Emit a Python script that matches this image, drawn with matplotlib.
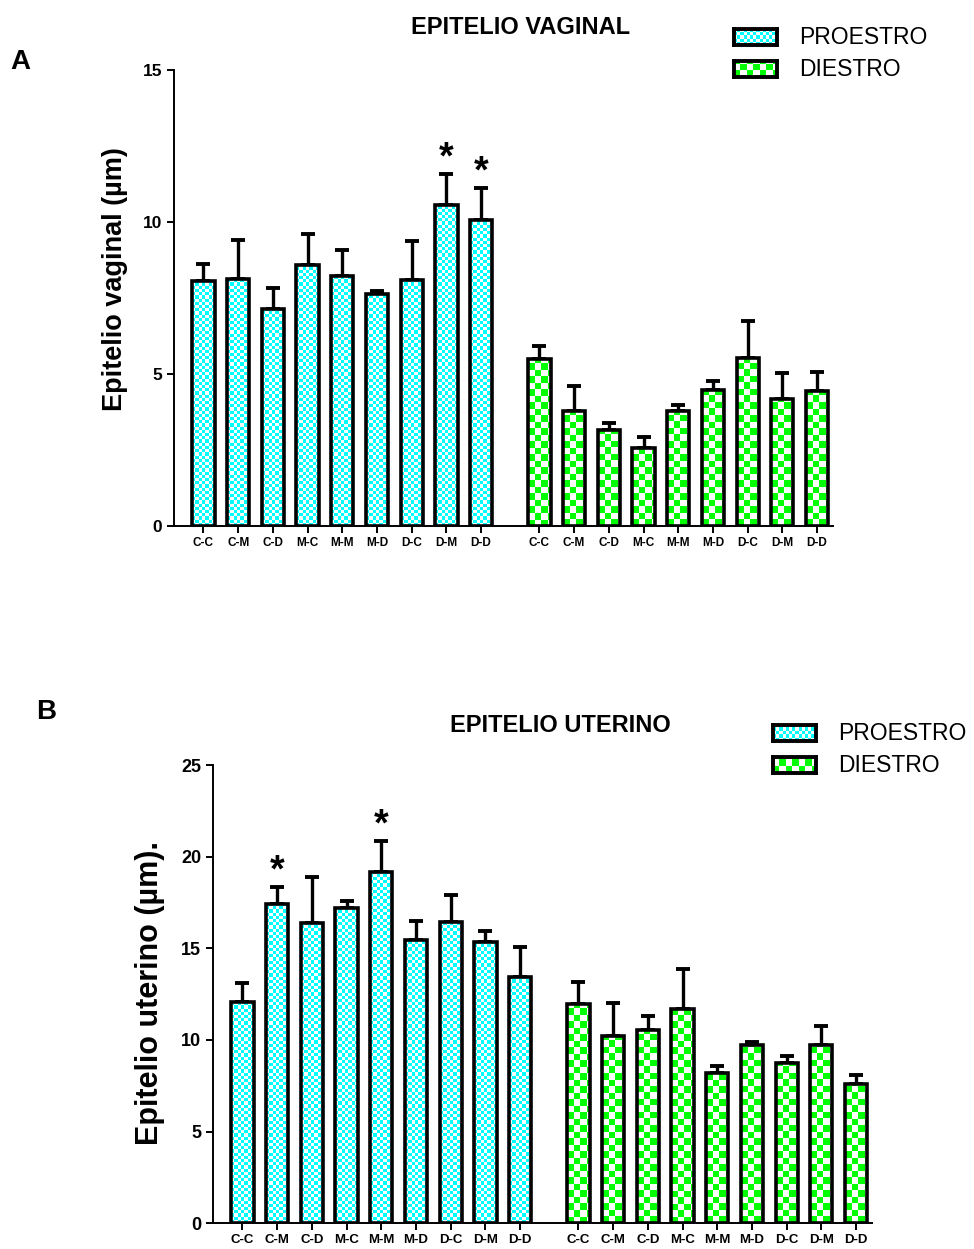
import matplotlib
matplotlib.use("Agg")
import matplotlib.pyplot as plt
import numpy as np

plt.rcParams['font.family'] = ['Liberation Sans', 'DejaVu Sans']

# data (mean, sem) ------------------------------------------------------
groups = ['C-C', 'C-M', 'C-D', 'M-C', 'M-M', 'M-D', 'D-C', 'D-M', 'D-D']

vag_pro = [8.04, 8.10, 7.14, 8.56, 8.21, 7.61, 8.07, 10.56, 10.07]
vag_pro_sem = [0.57, 1.30, 0.69, 1.04, 0.86, 0.11, 1.31, 1.00, 1.05]
vag_die = [5.48, 3.77, 3.16, 2.55, 3.79, 4.48, 5.53, 4.16, 4.45]
vag_die_sem = [0.45, 0.83, 0.22, 0.37, 0.19, 0.27, 1.22, 0.88, 0.62]
vag_stars = ['D-M', 'D-D']

ute_pro = [12.05, 17.40, 16.40, 17.18, 19.18, 15.47, 16.45, 15.36, 13.45]
ute_pro_sem = [1.05, 0.96, 2.51, 0.38, 1.69, 1.04, 1.48, 0.57, 1.64]
ute_die = [11.98, 10.22, 10.53, 11.67, 8.22, 9.71, 8.73, 9.71, 7.60]
ute_die_sem = [1.18, 1.80, 0.80, 2.19, 0.38, 0.20, 0.41, 1.04, 0.47]
ute_stars = ['C-M', 'M-M']

W, H = 974, 1249
CYAN = np.array([0, 255, 255]) / 255
GREEN = np.array([0, 255, 0]) / 255
WHITE = np.array([1.0, 1.0, 1.0])


def px_rect(l, t, r, b):
    return [l / W, 1 - b / H, (r - l) / W, (b - t) / H]


def checker(nx, ny, col):
    g = np.add.outer(np.arange(ny), np.arange(nx)) % 2
    return np.where(g[..., None] == 0, col, WHITE)


def checker_fill(ax, bars, col, cell_px):
    tr = ax.transData
    for b in bars:
        x0, y0, w, h = b.get_x(), b.get_y(), b.get_width(), b.get_height()
        p0 = tr.transform((x0, y0))
        p1 = tr.transform((x0 + w, y0 + h))
        dx = w / (p1[0] - p0[0]) * cell_px
        dy = h / (p1[1] - p0[1]) * cell_px
        nx = int(np.ceil(w / dx))
        ny = int(np.ceil(h / dy))
        im = ax.imshow(checker(nx, ny, col), extent=(x0, x0 + nx * dx, y0, y0 + ny * dy),
                       origin='lower', aspect='auto', interpolation='nearest', zorder=2)
        im.set_clip_path(b)


def panel(rect, pro, pro_sem, die, die_sem, stars, ymax, title, title_xy,
          ylabel, ylabel_xy, letter, letter_xy, leg_x, leg_y, fs):
    ax = fig.add_axes(px_rect(*rect))
    xp = np.arange(len(groups))
    xd = xp + 9.68
    ax.set_xlim(-0.85, 18.14)
    ax.set_ylim(0, ymax)

    bp = ax.bar(xp, pro, width=0.64, facecolor='none', edgecolor='black', linewidth=2.6, zorder=3)
    bd = ax.bar(xd, die, width=0.64, facecolor='none', edgecolor='black', linewidth=2.6, zorder=3)
    checker_fill(ax, bp, CYAN, 3.2)
    checker_fill(ax, bd, GREEN, 6.5)

    for x, m, s in ((xp, pro, pro_sem), (xd, die, die_sem)):
        ax.errorbar(x, m, yerr=[np.zeros(len(s)), s], fmt='none', ecolor='black',
                    elinewidth=2.4, capsize=4.8, capthick=2.8, zorder=1)

    for g in stars:
        i = groups.index(g)
        ax.annotate('*', (xp[i], pro[i] + pro_sem[i]), xytext=(0, -2), textcoords='offset points',
                    ha='center', va='bottom', fontsize=27, fontweight='bold')

    ax.set_xticks(np.concatenate([xp, xd]))
    ax.set_xticklabels(groups + groups, fontsize=fs[0], fontweight='bold')
    ax.set_yticks(np.arange(0, ymax + 1, 5))
    ax.tick_params(axis='y', labelsize=fs[1], width=1.4, length=5)
    ax.tick_params(axis='x', width=1.4, length=5, pad=3)
    for lab in ax.get_yticklabels():
        lab.set_fontweight('bold')
    for sp in ('top', 'right'):
        ax.spines[sp].set_visible(False)
    for sp in ('left', 'bottom'):
        ax.spines[sp].set_linewidth(1.4)

    fig.text(title_xy[0] / W, 1 - title_xy[1] / H, title, ha='center', va='center',
             fontsize=17, fontweight='bold')
    fig.text(ylabel_xy[0] / W, 1 - ylabel_xy[1] / H, ylabel, ha='center', va='center',
             rotation=90, fontsize=fs[2], fontweight='bold')
    fig.text(letter_xy[0] / W, 1 - letter_xy[1] / H, letter, ha='center', va='center',
             fontsize=20, fontweight='bold')

    # legend drawn by hand so the swatches keep the checker pattern
    for k, (name, col, cell) in enumerate((('PROESTRO', CYAN, 3.2), ('DIESTRO', GREEN, 6.5))):
        top = leg_y[k]
        la = fig.add_axes(px_rect(leg_x, top, leg_x + 43, top + 16))
        la.imshow(checker(int(43 / cell) + 1, int(16 / cell) + 1, col), aspect='auto',
                  interpolation='nearest', extent=(0, (int(43 / cell) + 1) * cell, 0, (int(16 / cell) + 1) * cell))
        la.set_xlim(0, 43)
        la.set_ylim(0, 16)
        la.set_xticks([])
        la.set_yticks([])
        for sp in la.spines.values():
            sp.set_linewidth(2.8)
        fig.text((leg_x + 65) / W, 1 - (top + 8.5) / H, name, ha='left', va='center', fontsize=16.5)
    return ax


fig = plt.figure(figsize=(W / 100, H / 100), dpi=100)

panel((174, 69.5, 833, 526), vag_pro, vag_pro_sem, vag_die, vag_die_sem, vag_stars, 15,
      'EPITELIO VAGINAL', (521, 27), 'Epitelio vaginal (µm)', (115, 279), 'A', (20, 62),
      734, (29, 61), (8.5, 12.5, 19.5))

panel((213, 765, 872, 1223.3), ute_pro, ute_pro_sem, ute_die, ute_die_sem, ute_stars, 25,
      'EPITELIO UTERINO', (560, 725), 'Epitelio uterino (µm).', (150, 993), 'B', (46, 712),
      773, (725, 757), (9.5, 13, 22))

fig.savefig('out.png', dpi=100)
